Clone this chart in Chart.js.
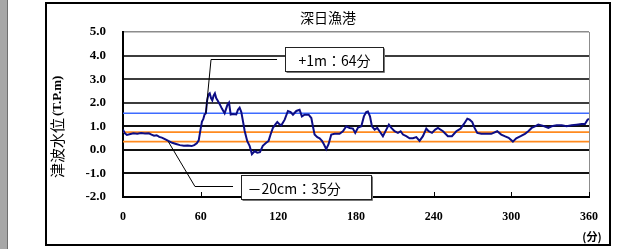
<!DOCTYPE html>
<html lang="ja">
<head>
<meta charset="utf-8">
<title>深日漁港</title>
<script src="https://cdn.jsdelivr.net/npm/chart.js@4.4.1/dist/chart.umd.min.js"></script>
<style>
  html, body { margin: 0; padding: 0; background: #fff; }
  #wrap { position: relative; width: 635px; height: 249px; overflow: hidden; }
  #edge { position: absolute; left: 0; top: 0; width: 7px; height: 249px; background: #a8a8a8; border-right: 1px solid #707070; }
  canvas { position: absolute; left: 0; top: 0; }
</style>
</head>
<body>
<div id="wrap">
  <div id="edge"></div>
  <canvas id="tsunami-chart" width="635" height="249"></canvas>
</div>
<script>
const chartTitle = "深日漁港";
const yAxisTitle = "津波水位";
const yAxisUnit = "(T.P.m)";
const xAxisUnit = "(分)";

// 経過時間(分) と 水位(T.P.m)
const times = [
  0, 1.5, 3, 5, 8, 11, 14, 17, 20, 22, 24, 26, 28, 30, 32, 35, 38, 41, 44, 47,
  50, 53, 55, 57, 58.5, 60, 61, 62, 63, 64, 65, 66, 67, 68, 69, 70, 71, 72, 73, 74.6,
  76.5, 78.5, 80.6, 81.9, 83.2, 85, 87.5, 88.8, 90.1, 91.4, 92.7, 94, 96, 97.8, 99.6, 101.7, 103.7, 105.8, 108, 110.6,
  112.4, 114, 115.8, 117.6, 119.2, 121, 122.3, 124.9, 127.4, 129.5, 131.3, 133.9, 136.4, 138.2, 140.3, 143.4, 145.5, 146.7, 148, 150.1,
  151.9, 153.7, 155.2, 157, 158.8, 160.9, 163.5, 167.3, 169.9, 172.5, 175.1, 177.6, 179.4, 181.5, 184.1, 186.1, 187.9, 189.2, 190.8, 192.3,
  194.4, 196.4, 198.2, 200.8, 203.4, 205.4, 207.3, 209.8, 212.4, 214.5, 216.3, 218.8, 221.4, 224, 226.6, 229.1, 231.7, 234.3, 236.1, 238.7,
  241.2, 243.3, 247.2, 251, 254.1, 257.5, 260.8, 263.4, 266, 267.8, 269.8, 271.6, 273.7, 276.8, 280.6, 284.5, 289.1, 292.2, 294.8, 297.9,
  301.2, 303.8, 307.2, 310.5, 313.1, 315.7, 318.3, 320.8, 323.4, 326, 328.6, 331.1, 335, 338.9, 342.7, 346.6, 350.4, 354.3, 356.9, 358.9,
  360
];
const levels = [
  0.85, 0.7, 0.63, 0.66, 0.7, 0.68, 0.71, 0.69, 0.7, 0.65, 0.6, 0.62, 0.55, 0.52, 0.47, 0.38, 0.3, 0.25, 0.2, 0.17,
  0.18, 0.16, 0.2, 0.28, 0.4, 0.9, 1.2, 1.3, 1.5, 1.55, 2.1, 2.35, 2.4, 2.2, 2.1, 2.3, 2.4, 2.2, 2.1, 1.95,
  1.74, 1.55, 1.9, 2.0, 1.5, 1.52, 1.5, 1.7, 1.79, 1.6, 1.21, 0.8, 0.37, 0.17, -0.18, -0.05, -0.12, -0.1, 0.17, 0.3,
  0.37, 0.65, 0.93, 1.07, 1.18, 1.08, 1.04, 1.28, 1.65, 1.6, 1.49, 1.65, 1.7, 1.42, 1.49, 1.49, 1.35, 1.0, 0.65, 0.54,
  0.49, 0.38, 0.24, 0.03, 0.24, 0.65, 0.68, 0.68, 0.79, 1.0, 0.93, 0.9, 0.72, 0.94, 1.0, 1.42, 1.6, 1.63, 1.42, 1.0,
  0.86, 0.93, 0.79, 0.58, 0.86, 1.07, 0.93, 0.79, 0.72, 0.79, 0.65, 0.58, 0.49, 0.49, 0.54, 0.38, 0.58, 0.9, 0.79, 0.72,
  0.86, 0.93, 0.79, 0.58, 0.58, 0.79, 0.9, 1.1, 1.32, 1.28, 1.18, 0.93, 0.72, 0.68, 0.68, 0.68, 0.79, 0.65, 0.58, 0.51,
  0.35, 0.49, 0.58, 0.68, 0.79, 0.93, 1.0, 1.07, 1.04, 0.99, 0.93, 1.0, 1.04, 1.04, 1.0, 1.04, 1.07, 1.1, 1.1, 1.28,
  1.32
];

const xTicks = [0, 60, 120, 180, 240, 300, 360];
const yTicks = [-2, -1, 0, 1, 2, 3, 4, 5];

// 基準線: +1m, +20cm, -20cm
const guideLevels = [1.55, 0.75, 0.35];
const guideColors = ["#3d6bff", "#ff8a1f", "#ff8a1f"];

const calloutTexts = ["+1m：64分", "－20cm：35分"];
const calloutTimes = [64, 35];
const calloutLevels = [1.55, 0.35];

// 吹き出しの配置 (軸の値で指定)
const calloutBoxes = [
  { x0: 125, x1: 201, top: 4.36, bottom: 3.34, elbowX: 68, lineEndX: 119, elbowY: 3.85, inset: 13 },
  { x0: 91.2, x1: 191.6, top: -1.07, bottom: -2.08, elbowX: 55.6, lineEndX: 85, elbowY: -1.53, inset: 6 },
];

const jpFont = "'Noto Sans CJK JP', 'Noto Sans', sans-serif";
const numFont = "'Liberation Serif', 'DejaVu Serif', serif";

function gridColor(value) {
  if (value === 5) return "#8c8c8c";
  if (value >= 2) return "#3c3c3c";
  return "#111";
}

const decorPlugin = {
  id: "decor",
  afterDraw(chart) {
    const { ctx, chartArea } = chart;
    const xScale = chart.scales.x;
    const yScale = chart.scales.y;
    ctx.save();

    // 外枠
    ctx.strokeStyle = "#000";
    ctx.lineWidth = 2;
    ctx.strokeRect(46, 3, 564, 242);

    // タイトル
    ctx.fillStyle = "#000";
    ctx.font = "14px " + jpFont;
    ctx.textAlign = "center";
    ctx.textBaseline = "middle";
    ctx.fillText(chartTitle, 328, 18);

    // 縦軸タイトル
    ctx.save();
    ctx.translate(57, 178);
    ctx.rotate(-Math.PI / 2);
    ctx.textAlign = "left";
    ctx.font = "15px " + jpFont;
    ctx.fillText(yAxisTitle, 0, 0);
    const w = ctx.measureText(yAxisTitle).width;
    ctx.font = "bold 13px " + numFont;
    ctx.fillText(yAxisUnit, w + 2, 1);
    ctx.restore();

    // 横軸単位
    ctx.font = "bold 11px " + jpFont;
    ctx.textAlign = "center";
    ctx.fillText(xAxisUnit, 592, 237);

    // 内向きの目盛
    ctx.strokeStyle = "#000";
    ctx.lineWidth = 1;
    xScale.ticks.forEach((t) => {
      const px = Math.round(xScale.getPixelForValue(t.value)) + 0.5;
      ctx.beginPath();
      ctx.moveTo(px, chartArea.bottom - 5);
      ctx.lineTo(px, chartArea.bottom);
      ctx.stroke();
    });

    // 吹き出し
    calloutBoxes.forEach((box, i) => {
      const tx = xScale.getPixelForValue(calloutTimes[i]);
      const ty = yScale.getPixelForValue(calloutLevels[i]);
      const ex = xScale.getPixelForValue(box.elbowX);
      const ey = Math.round(yScale.getPixelForValue(box.elbowY)) + 0.5;
      const lx = xScale.getPixelForValue(box.lineEndX);
      ctx.strokeStyle = "#000";
      ctx.lineWidth = 1;
      ctx.beginPath();
      ctx.moveTo(tx, ty);
      ctx.lineTo(ex, ey);
      ctx.lineTo(lx, ey);
      ctx.stroke();

      const bx0 = Math.round(xScale.getPixelForValue(box.x0)) + 0.5;
      const bx1 = Math.round(xScale.getPixelForValue(box.x1)) + 0.5;
      const by0 = Math.round(yScale.getPixelForValue(box.top)) + 0.5;
      const by1 = Math.round(yScale.getPixelForValue(box.bottom)) + 0.5;
      ctx.fillStyle = "#fff";
      ctx.fillRect(bx0, by0, bx1 - bx0, by1 - by0);
      ctx.strokeStyle = "#222";
      ctx.strokeRect(bx0, by0, bx1 - bx0, by1 - by0);
      ctx.strokeStyle = "#777";
      ctx.beginPath();
      ctx.moveTo(bx1 + 1, by0 + 1);
      ctx.lineTo(bx1 + 1, by1 + 1);
      ctx.lineTo(bx0 + 1, by1 + 1);
      ctx.stroke();

      ctx.fillStyle = "#000";
      ctx.font = "14px " + jpFont;
      ctx.textAlign = "left";
      ctx.textBaseline = "middle";
      ctx.fillText(calloutTexts[i], bx0 + box.inset, (by0 + by1) / 2 + 1);
    });

    ctx.restore();
  },
};

const datasets = [
  {
    label: "津波水位",
    data: times.map((t, i) => ({ x: t, y: levels[i] })),
    borderColor: "#0d0d85",
    borderWidth: 2,
    pointRadius: 0,
    tension: 0,
  },
];
guideLevels.forEach((lvl, i) => {
  datasets.push({
    label: "guide" + i,
    data: [{ x: 0, y: lvl }, { x: 360, y: lvl }],
    borderColor: guideColors[i],
    borderWidth: i === 0 ? 1.5 : 1.8,
    pointRadius: 0,
  });
});

new Chart(document.getElementById("tsunami-chart"), {
  type: "line",
  data: { datasets: datasets },
  options: {
    responsive: false,
    animation: false,
    devicePixelRatio: 1,
    layout: { padding: { left: 45, right: 46, top: 32, bottom: 0 } },
    plugins: {
      legend: { display: false },
      title: { display: false },
      tooltip: { enabled: false },
    },
    scales: {
      x: {
        type: "linear",
        min: 0,
        max: 360,
        afterBuildTicks: (scale) => {
          scale.ticks = xTicks.map((v) => ({ value: v }));
        },
        afterFit: (scale) => {
          scale.height = 52;
        },
        grid: {
          drawTicks: false,
          lineWidth: 1,
          color: (ctx) => (ctx.tick && ctx.tick.value === 360 ? "#8c8c8c" : "rgba(0,0,0,0)"),
        },
        border: { display: true, color: "#000", width: 2 },
        ticks: {
          padding: 13,
          color: "#000",
          maxRotation: 0,
          font: { family: numFont, size: 12, weight: "bold" },
        },
      },
      y: {
        min: -2,
        max: 5,
        afterBuildTicks: (scale) => {
          scale.ticks = yTicks.map((v) => ({ value: v }));
        },
        afterFit: (scale) => {
          scale.width = 78;
        },
        grid: {
          drawTicks: false,
          lineWidth: (ctx) => (ctx.tick && ctx.tick.value === 5 ? 1.5 : 2),
          color: (ctx) => gridColor(ctx.tick ? ctx.tick.value : 0),
        },
        border: { display: true, color: "#000", width: 2 },
        ticks: {
          padding: 17,
          color: "#000",
          font: { family: numFont, size: 13, weight: "bold" },
          callback: (v) => Number(v).toFixed(1),
        },
      },
    },
  },
  plugins: [decorPlugin],
});
</script>
</body>
</html>
